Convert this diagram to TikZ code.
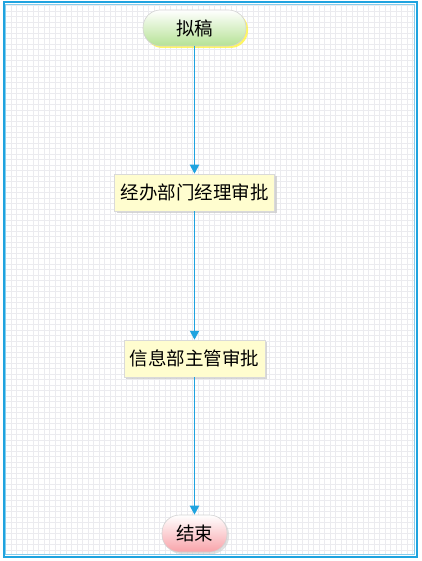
\documentclass[tikz,border=0pt]{standalone}
\usepackage{fontspec}
\newfontfamily\cjk{Noto Sans CJK SC}
\usetikzlibrary{shadows,arrows.meta}
\definecolor{flowblue}{HTML}{1FA3DF}
\definecolor{gridgray}{HTML}{EBEBEF}
\definecolor{startgreen}{HTML}{B5E294}
\definecolor{endpink}{HTML}{F8A3A9}
\definecolor{taskyellow}{HTML}{FFFDCF}
\tikzset{
  labelfont/.style={font=\cjk\fontsize{18.5}{18.5}\selectfont},
  terminal/.style={rectangle, rounded corners=17.5pt, draw=gray!35, line width=0.6pt,
    minimum height=36pt, labelfont, inner sep=0pt},
  startnode/.style={terminal, top color=white, bottom color=startgreen,
    minimum width=103pt,
    drop shadow={shadow xshift=2pt, shadow yshift=-2pt, fill=yellow!75, opacity=0.8}},
  endnode/.style={terminal, top color=white, bottom color=endpink,
    minimum width=65pt, minimum height=37pt,
    drop shadow={shadow xshift=2pt, shadow yshift=-2pt, fill=gray!40, opacity=0.6}},
  taskbox/.style={draw=gray!30, line width=0.5pt, fill=taskyellow,
    labelfont, minimum height=37pt, inner xsep=6pt,
    drop shadow={shadow xshift=2pt, shadow yshift=-2pt, fill=gray!45, opacity=0.7}},
  flow/.style={draw=flowblue, line width=1.9pt,
    -{Triangle[length=9pt, width=9pt]}},
}
\begin{document}
\begin{tikzpicture}[x=1pt, y=-1pt]
  \useasboundingbox (0,0) rectangle (421,561);
  % background grid
  \fill[white] (0,0) rectangle (421,561);
  \draw[gridgray, line width=0.4pt, step=5.5pt] (5,4) grid (415,555);
  % frame
  \draw[flowblue!55, line width=1pt] (5.5,4.5) rectangle (414.5,554.5);
  \draw[flowblue, line width=2pt] (3.5,2.5) rectangle (416.5,556.5);

  % process nodes
  \node[startnode] (draft) at (194.5,28) {拟稿};
  \node[taskbox] (mgr) at (194.5,192.5) {经办部门经理审批};
  \node[taskbox] (info) at (194.5,358.5) {信息部主管审批};
  \node[endnode] (finish) at (194.5,533.5) {结束};

  % connectors
  \draw[flow] (draft) -- (mgr);
  \draw[flow] (mgr) -- (info);
  \draw[flow] (info) -- (finish);
\end{tikzpicture}
\end{document}
